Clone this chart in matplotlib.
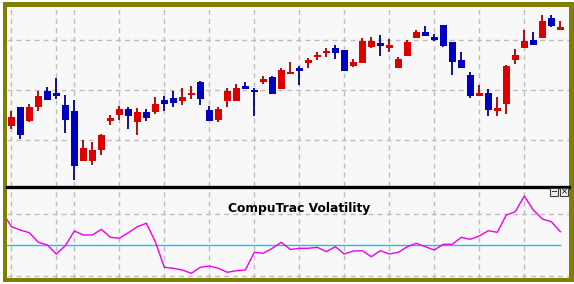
import numpy as np
import matplotlib.pyplot as plt
from matplotlib.patches import Rectangle
from matplotlib.lines import Line2D

# daily candles (price units are arbitrary)
opens = [74, 93, 79, 93, 109, 107, 95, 89, 39, 39, 50, 79, 85, 91, 78, 88, 88, 100, 102, 99,
         105, 118, 90, 80, 99, 99, 114, 109, 118, 123, 111, 126, 132, 137, 143, 147, 152, 150, 134, 137,
         153, 157, 152, 132, 144, 162, 168, 163, 175, 158, 140, 125, 104, 107, 89, 96, 140, 152, 160, 162,
         182, 170]
highs = [89, 93, 96, 109, 113, 122, 105, 100, 60, 58, 66, 85, 94, 93, 92, 91, 103, 104, 109, 112,
         114, 119, 94, 93, 112, 116, 118, 112, 124, 124, 132, 138, 134, 142, 148, 152, 155, 150, 141, 162,
         163, 165, 161, 143, 160, 170, 174, 166, 175, 158, 148, 128, 115, 111, 103, 135, 151, 170, 168, 185,
         185, 179]
lows = [71, 61, 78, 89, 100, 101, 67, 20, 39, 35, 45, 75, 80, 71, 65, 79, 86, 89, 93, 95,
        101, 95, 79, 78, 93, 99, 111, 84, 116, 106, 111, 126, 115, 132, 140, 143, 141, 129, 133, 137,
        152, 144, 148, 132, 144, 162, 164, 159, 153, 125, 132, 102, 104, 84, 84, 86, 136, 152, 155, 162,
        173, 170]
closes = [83, 65, 93, 104, 100, 104, 80, 34, 52, 50, 65, 82, 91, 84, 88, 82, 96, 96, 97, 103,
          107, 101, 79, 91, 109, 112, 111, 108.4, 121, 106, 130, 128, 129, 140, 145, 149, 147, 129, 138, 159,
          159, 154.5, 155, 141, 158, 168, 164, 160, 154, 138, 132, 104, 107, 90, 92, 134, 145, 159, 155, 179,
          174, 173]

# CompuTrac volatility (first value belongs to the bar before the window) and its reference level
vol = [68, 53.3, 50, 47.3, 37.7, 35, 26, 34.3, 49, 45, 45, 50.7, 42.7, 41.7, 47.3, 53.3, 56.7, 38.3, 12.7, 11.7, 10,
       6.7, 12.7, 14, 11.7, 7.7, 9.3, 10, 27.7, 26.7, 31.7, 37.7, 30.5, 31.7, 31.7, 32.7, 28.3, 33.3, 26, 29, 29.3,
       23.3, 29.3, 26, 27.7, 33.3, 36.7, 33.3, 30, 35.7, 35.7, 42.7, 40.7, 44, 49.3, 47.7, 65, 68.3, 84, 70, 61,
       58.3, 48.3]
vol_level = 34.7

# bars that carry a vertical grid line
grid_bars = [0, 5, 7, 12, 17, 22, 27, 32, 37, 42, 47, 52, 57]
price_grid = [60, 110, 160]
vol_grid = [4, 66]

W, H = 574, 284
BG = '#f8f8f8'
GRID = dict(color='#bdbdbd', lw=1, ls=(0, (3.5, 3)), zorder=1)

def box(x0, y0, x1, y1):
    return [x0 / W, 1 - y1 / H, (x1 - x0) / W, (y1 - y0) / H]

fig = plt.figure(figsize=(W / 100, H / 100), dpi=100)
fig.patch.set_facecolor('white')
fig.add_artist(Rectangle((3 / W, 1 - 282 / H), 571 / W, 280 / H, transform=fig.transFigure,
                         facecolor='#808000', edgecolor='none', zorder=0))
fig.add_artist(Rectangle((7 / W, 1 - 277.5 / H), 562 / W, 270.5 / H, transform=fig.transFigure,
                         facecolor=BG, edgecolor='none', zorder=0))

ax1 = fig.add_axes(box(7, 7, 569, 186))
ax2 = fig.add_axes(box(7, 188, 569, 277.5))
for ax in (ax1, ax2):
    ax.set_facecolor(BG)
    for s in ax.spines.values():
        s.set_visible(False)
    ax.set_xticks([])
    ax.set_yticks([])
    ax.set_xlim(-0.48, 61.97)
    for g in grid_bars:
        ax.axvline(g, **GRID)

# candles
x = np.arange(len(opens))
o = np.array(opens, float)
c = np.array(closes, float)
up = c >= o
body_col = np.where(up, '#dc0000', '#0000c0')
wick_col = np.where(up, '#a00000', '#000080')
ax1.vlines(x, lows, highs, colors=wick_col, lw=1.3, zorder=3)
ax1.bar(x, np.maximum(np.abs(c - o), 1.2), bottom=np.minimum(o, c), width=0.76,
        color=body_col, zorder=4)
for g in price_grid:
    ax1.axhline(g, **GRID)
ax1.set_ylim(14, 193)

# volatility panel
for g in vol_grid:
    ax2.axhline(g, **GRID)
ax2.plot([-0.48, x[-1]], [vol_level, vol_level], color='#18bff0', lw=1, zorder=2)
ax2.plot(np.arange(-1, len(opens)), vol, color='#f000f0', lw=1, zorder=3)
ax2.set_ylim(2.5, 92)
ax2.text(31.97, 71.5, 'CompuTrac Volatility', ha='center', va='center',
         fontsize=8.8, fontweight='bold', color='black', zorder=5)

# separator and the little window buttons
fig.add_artist(Line2D([7 / W, 569 / W], [1 - 187 / H] * 2, color='black', lw=2.4))
for bx, sym in ((550, '\u2212'), (560, '\u00d7')):
    fig.add_artist(Rectangle((bx / W, 1 - 196 / H), 8 / W, 8 / H, transform=fig.transFigure,
                             facecolor='#f0f0f0', edgecolor='#404040', lw=0.8, zorder=5))
    fig.text((bx + 4) / W, 1 - 192 / H, sym, ha='center', va='center', fontsize=6, zorder=6)

fig.savefig('out.png', dpi=100)
